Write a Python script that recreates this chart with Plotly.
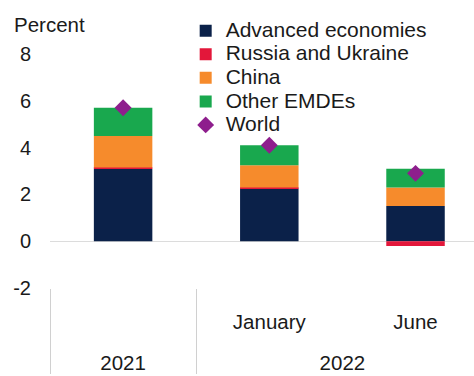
import plotly.graph_objects as go

# Category hierarchy: (year, month). The 2021 column has no month; its label
# is a tall non-breaking space so the year row sits lower under the months.
BLANK = '<span style="font-size:52px">\u00a0</span>'
years = ["2021", "2022", "2022"]
months = [BLANK, "January", "June"]

# Contributions to global growth, percentage points
advanced = [3.1, 2.25, 1.5]
russia_ukraine = [0.05, 0.05, -0.2]
china = [1.35, 0.95, 0.8]
other_emdes = [1.2, 0.85, 0.8]
world = [5.7, 4.1, 2.9]

y_ticks = [-2, 0, 2, 4, 6, 8]
y_tick_text = ["-2", "0", "2", "4", "6", "8"]

FONT = "Liberation Sans, Arial, sans-serif"
LEGEND_TEXT = '<span style="font-size:21px">{}</span>'
x = [years, months]

fig = go.Figure()
bar_series = [
    ("Advanced economies", advanced, "#0B2149"),
    ("Russia and Ukraine", russia_ukraine, "#E3173A"),
    ("China", china, "#F68B2C"),
    ("Other EMDEs", other_emdes, "#19A84E"),
]
for name, vals, color in bar_series:
    fig.add_trace(go.Bar(x=x, y=vals, name=LEGEND_TEXT.format(name),
                         marker_color=color, marker_line_width=0))

fig.add_trace(go.Scatter(x=x, y=world, name=LEGEND_TEXT.format("World"),
                         mode="markers",
                         marker=dict(symbol="diamond", size=13, color="#8E1E8D")))

fig.update_layout(
    width=474, height=376,
    margin=dict(l=50, r=0, t=54, b=88),
    paper_bgcolor="white", plot_bgcolor="white",
    barmode="relative", bargap=0.6,
    font=dict(family=FONT, size=20, color="#1a1a1a"),
    showlegend=True,
    legend=dict(x=0.32, y=1.171, xanchor="left", yanchor="top",
                traceorder="normal", bgcolor="rgba(0,0,0,0)",
                font=dict(size=15.8), itemwidth=30, tracegroupgap=0),
    xaxis=dict(type="multicategory", range=[-0.5, 2.4],
               showgrid=False, showline=False, zeroline=False,
               ticks="", ticklabelstandoff=19,
               showdividers=True, dividercolor="#d0d0d0", dividerwidth=1,
               tickfont=dict(size=20.5)),
    yaxis=dict(range=[-2, 8], tickvals=y_ticks, ticktext=y_tick_text,
               showgrid=False, showline=False,
               zeroline=True, zerolinecolor="#dcdcdc", zerolinewidth=1,
               ticks="outside", ticklen=14, tickcolor="rgba(0,0,0,0)",
               tickfont=dict(size=20)),
    annotations=[dict(text="Percent", x=-0.09, y=1.124, xref="paper", yref="paper",
                      xanchor="left", yanchor="middle", showarrow=False,
                      font=dict(size=20.5))],
)

fig.write_html("out.html")
